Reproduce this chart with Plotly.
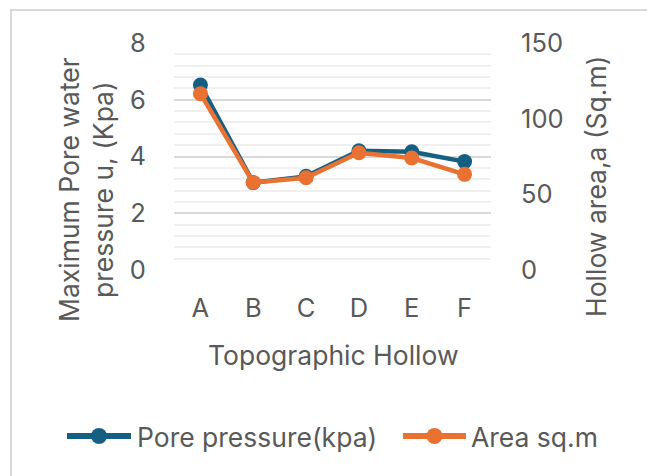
import plotly.graph_objects as go

categories = ["A", "B", "C", "D", "E", "F"]
pore_pressure = [6.52, 3.08, 3.30, 4.20, 4.17, 3.82]
area_sqm = [116.5, 57.8, 61.0, 77.5, 74.0, 63.2]
series_names = ["Pore pressure(kpa)", "Area sq.m"]

W, H = 647, 476
L, R, T, B = 174, 491, 43, 270  # plot area in pixels
pw, ph = R - L, B - T

def px(x):
    return (x - L) / pw

def py(y):
    return (B - y) / ph

FONT = "Inter"
GREY = "#595959"
BLUE = "#156082"
ORANGE = "#E97132"
TICK = 25.5
TITLE = 26.5

fig = go.Figure()
fig.add_trace(go.Scatter(
    x=categories, y=pore_pressure, name=series_names[0],
    mode="lines+markers", line=dict(color=BLUE, width=4.5),
    marker=dict(color=BLUE, size=15), yaxis="y", showlegend=False))
fig.add_trace(go.Scatter(
    x=categories, y=area_sqm, name=series_names[1],
    mode="lines+markers", line=dict(color=ORANGE, width=4.5),
    marker=dict(color=ORANGE, size=15), yaxis="y2", showlegend=False))

# legend drawn as layout decoration (long line symbols like the reference)
legend_items = [(series_names[0], BLUE, 67, 131, 135),
                (series_names[1], ORANGE, 403, 466, 469)]
LEG_Y = 436
shapes = [dict(type="rect", xref="paper", yref="paper",
               x0=px(11), x1=px(700), y0=py(10), y1=py(520),
               line=dict(color="#d9d9d9", width=2), fillcolor="rgba(0,0,0,0)",
               layer="below")]
annotations = [
    dict(text="Maximum Pore water<br>pressure u, (Kpa)", textangle=-90,
         xref="paper", yref="paper", x=px(86), y=py(190),
         xanchor="center", yanchor="middle", showarrow=False,
         font=dict(size=TITLE, color=GREY)),
    dict(text="Hollow area,a (Sq.m)", textangle=-90,
         xref="paper", yref="paper", x=px(596), y=py(187),
         xanchor="center", yanchor="middle", showarrow=False,
         font=dict(size=TITLE, color=GREY)),
    dict(text="Topographic Hollow",
         xref="paper", yref="paper", x=px(333.5), y=py(355),
         xanchor="center", yanchor="middle", showarrow=False,
         font=dict(size=TITLE, color=GREY)),
]
for name, col, x0, x1, tx in legend_items:
    shapes.append(dict(type="line", xref="paper", yref="paper",
                       x0=px(x0), x1=px(x1), y0=py(LEG_Y), y1=py(LEG_Y),
                       line=dict(color=col, width=6)))
    cx = (x0 + x1) / 2
    r = 8
    shapes.append(dict(type="circle", xref="paper", yref="paper",
                       x0=px(cx - r), x1=px(cx + r),
                       y0=py(LEG_Y + r), y1=py(LEG_Y - r),
                       line=dict(color=col, width=0), fillcolor=col))
    annotations.append(dict(text=name, xref="paper", yref="paper",
                            x=px(tx), y=py(LEG_Y + 1), xanchor="left",
                            yanchor="middle", showarrow=False,
                            font=dict(size=TITLE, color=GREY)))

fig.update_layout(
    width=W, height=H,
    margin=dict(l=L, r=W - R, t=T, b=H - B),
    paper_bgcolor="white", plot_bgcolor="white",
    font=dict(family=FONT, color=GREY, size=TICK),
    showlegend=False,
    xaxis=dict(type="category", range=[-0.5, 5.5], showgrid=False,
               showline=False, zeroline=False, ticks="outside",
               ticklen=15, tickcolor="rgba(0,0,0,0)",
               tickfont=dict(size=TICK, color=GREY)),
    yaxis=dict(range=[0, 8], dtick=2, showgrid=True, gridcolor="#d9d9d9",
               gridwidth=1.5, zeroline=False, showline=False,
               ticks="outside", ticklen=22, tickcolor="rgba(0,0,0,0)",
               tickfont=dict(size=TICK, color=GREY),
               minor=dict(dtick=0.4, showgrid=True, gridcolor="#f0f0f0",
                          gridwidth=1.5)),
    yaxis2=dict(range=[0, 150], dtick=50, overlaying="y", side="right",
                showgrid=False, zeroline=False, showline=False,
                ticks="outside", ticklen=24, tickcolor="rgba(0,0,0,0)",
                tickfont=dict(size=TICK, color=GREY)),
    annotations=annotations,
    shapes=shapes,
)

fig.write_html("out.html")
